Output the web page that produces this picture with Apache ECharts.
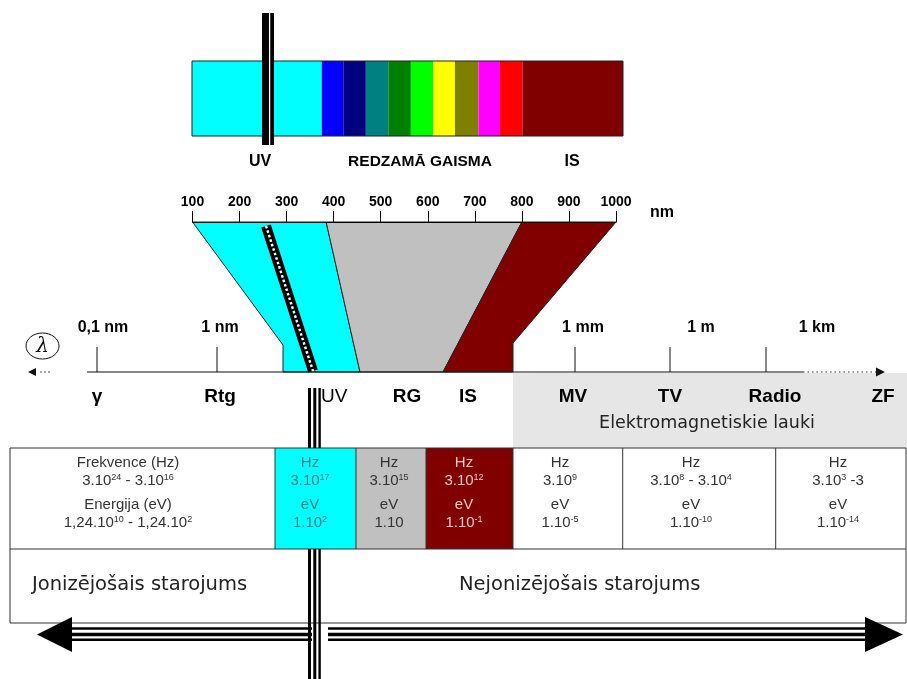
<!DOCTYPE html>
<html><head><meta charset="utf-8">
<script src="https://cdn.jsdelivr.net/npm/echarts@6/dist/echarts.min.js"></script>
<style>html,body{margin:0;padding:0;background:#fff}#c{width:907px;height:679px}</style>
</head><body><div id="c"></div>
<script>
// ---------------- data ----------------
const spectrumBandColors = ['#00ffff','#0000ff','#000080','#008080','#008000','#00ff00','#ffff00','#808000','#ff00ff','#ff0000','#800000'];
const spectrumBandEdgesNm = [100,371,416,463,510,557,604,649,698,743,790,1000];
const spectrumLabels = ['UV','REDZAMĀ GAISMA','IS'];
const funnelColors = ['#00ffff','#c0c0c0','#800000'];
const funnelTopNm = [100,384,800,1000];
const nmUnit = 'nm';
const wavelengthTickLabels = ['0,1 nm','1 nm','1 mm','1 m','1 km'];
const regionLabels = ['γ','Rtg','UV','RG','IS','MV','TV','Radio','ZF'];
const emFieldLabel = 'Elektromagnetiskie lauki';
const firstCellLines = ['Frekvence (Hz)','3.10²⁴ - 3.10¹⁶','Energija (eV)','1,24.10¹⁰ - 1,24.10²'];
const cellFrequencies = ['3.10¹⁷','3.10¹⁵','3.10¹²','3.10⁹','3.10⁸ - 3.10⁴','3.10³ -3'];
const cellEnergies = ['1.10²','1.10','1.10⁻¹','1.10⁻⁵','1.10⁻¹⁰','1.10⁻¹⁴'];
const cellUnits = ['Hz','eV'];
const radiationLabels = ['Jonizējošais starojums','Nejonizējošais starojums'];

// ---------------- layout ----------------
const L = {
  spectrumLabelX: [260, 420, 572], spectrumLabelY: 162,
  topLine: {x1: 262, x2: 274, gapX: 269.6, y1: 13, y2: 145},
  nmLabel: {x: 662, y: 213},
  axisY: 372, axisX1: 87, axisSolidEnd: 803, axisDotEnd: 876, axisArrowTip: 885,
  tickX: [97, 217, 575, 670, 766], tickTop: 347, tickLabelX: [103, 220, 583, 701, 817], tickLabelY: 328,
  funnelTopY: 222,
  funnelBottom: [[[360,372],[283,372],[283,345]], [[443,372],[360,372]], [[513,343],[513,372],[443,372]]],
  diag: {x1: 266, y1: 226, x2: 313, y2: 371},
  regionX: [97, 220, 321, 407, 468, 573, 670, 775, 883], regionY: 397,
  em: {x1: 513, x2: 907, y1: 373, y2: 448, textX: 707, textY: 423},
  lambda: {x: 42.5, y: 346, rx: 16.5, ry: 13},
  table: {x1: 10, x2: 906, y1: 448, yMid: 549, y2: 623},
  colEdges: [10, 275, 356, 426, 513, 622.7, 775.7, 906],
  colTextX: [128, 310, 389, 464, 560, 691, 838],
  cellFills: [null, '#00ffff', '#c0c0c0', '#800000', null, null, null],
  cellText: ['#333', '#3d7f86', '#333', '#f0c4c4', '#333', '#333', '#333'],
  lineY: [463, 481, 505, 523],
  radX: [32, 459], radY: 585,
  vLines: [[388, 448], [549, 679]], vLineX: [[309.5, 3], [314.8, 3], [319.6, 2.4]],
  arrowY: 634.5, arrowHalf: 17.5,
  leftArrow: {tip: 37, base: 72, end: 312}, rightArrow: {start: 328, base: 865, tip: 903},
  shaft: [[-6, 2.5], [0, 3.5], [5.2, 2.5]]
};

const FF = '"Liberation Sans", Arial, sans-serif';
const SUP = {'⁰':'0','¹':'1','²':'2','³':'3','⁴':'4','⁵':'5','⁶':'6','⁷':'7','⁸':'8','⁹':'9','⁻':'-'};
function toRich(s) {
  let out = '', sup = '';
  for (const ch of s) {
    if (SUP[ch] !== undefined) { sup += SUP[ch]; continue; }
    if (sup) { out += '{s|' + sup + '}'; sup = ''; }
    out += ch === '{' || ch === '}' ? '' : ch;
  }
  if (sup) out += '{s|' + sup + '}';
  return out;
}
function txt(x, y, text, font, fill, align, valign, rich) {
  const st = {legacy: false, x, y, text, font, fill: fill || '#000', align: align || 'center', verticalAlign: valign || 'middle'};
  if (rich) st.rich = rich;
  return {type: 'text', style: st};
}
function rect(x1, y1, x2, y2, fill, stroke, lw) {
  return {type: 'rect', shape: {x: x1, y: y1, width: x2 - x1, height: y2 - y1}, style: {fill: fill || 'none', stroke: stroke || 'none', lineWidth: lw || 1}};
}
function line(x1, y1, x2, y2, stroke, lw, dash) {
  return {type: 'line', shape: {x1, y1, x2, y2}, style: {stroke, lineWidth: lw, lineDash: dash || null}};
}
function poly(points, fill, stroke) {
  return {type: 'polygon', shape: {points}, style: {fill, stroke: stroke || 'none', lineWidth: 1}};
}

const chart = echarts.init(document.getElementById('c'), null, {renderer: 'canvas'});
const base = {
  animation: false,
  backgroundColor: '#ffffff',
  grid: [
    {left: 0, top: 0, width: 907, height: 679},
    {left: 192, top: 61, width: 431, height: 75},
    {left: 192.5, top: 222, width: 423.5, height: 150}
  ],
  xAxis: [
    {gridIndex: 0, type: 'value', min: 0, max: 907, show: false},
    {gridIndex: 1, type: 'value', min: 100, max: 1000, show: false},
    {gridIndex: 2, type: 'value', min: 100, max: 1000, interval: 100, position: 'top', z: 20,
      axisLine: {show: true, onZero: false, lineStyle: {color: '#000', width: 1}},
      axisTick: {show: true, inside: false, length: 11, lineStyle: {color: '#000', width: 1}},
      axisLabel: {show: true, margin: 13, color: '#000', fontWeight: 'bold', fontSize: 14, fontFamily: FF, formatter: v => String(v)},
      splitLine: {show: false}}
  ],
  yAxis: [
    {gridIndex: 0, type: 'value', min: 0, max: 679, inverse: true, show: false},
    {gridIndex: 1, type: 'value', min: 0, max: 1, show: false},
    {gridIndex: 2, type: 'value', min: 0, max: 1, show: false}
  ],
  series: []
};
chart.setOption(base);
const nmPx = nm => chart.convertToPixel({xAxisIndex: 2}, nm);

function pixelSeries(z, build) {
  return {
    type: 'custom', xAxisIndex: 0, yAxisIndex: 0, data: [[0, 0]], z, silent: true, clip: false,
    renderItem: (params, api) => {
      const P = (x, y) => api.coord([x, y]);
      return {type: 'group', children: build(P)};
    }
  };
}

const series = [];

// spectrum bands (nm scale of the bar grid)
series.push({
  type: 'custom', xAxisIndex: 1, yAxisIndex: 1, z: 2, silent: true,
  data: spectrumBandColors.map((c, i) => [spectrumBandEdgesNm[i], spectrumBandEdgesNm[i + 1], i]),
  renderItem: (params, api) => {
    const a = api.coord([api.value(0), 1]), b = api.coord([api.value(1), 0]);
    return {type: 'rect', shape: {x: a[0], y: a[1], width: b[0] - a[0], height: b[1] - a[1]},
      style: {fill: spectrumBandColors[api.value(2)]}};
  }
});
series.push({
  type: 'custom', xAxisIndex: 1, yAxisIndex: 1, z: 3, silent: true, data: [[100, 1000]],
  renderItem: (params, api) => {
    const a = api.coord([api.value(0), 1]), b = api.coord([api.value(1), 0]);
    return {type: 'rect', shape: {x: a[0], y: a[1], width: b[0] - a[0], height: b[1] - a[1]},
      style: {fill: 'none', stroke: '#222', lineWidth: 1}};
  }
});

// spectrum labels + top black line + nm unit
series.push(pixelSeries(5, P => {
  const out = [];
  const fonts = ['bold 16px ' + FF, 'bold 15.5px ' + FF, 'bold 16px ' + FF];
  spectrumLabels.forEach((s, i) => { const p = P(L.spectrumLabelX[i], L.spectrumLabelY); out.push(txt(p[0], p[1], s, fonts[i], '#000')); });
  const t = L.topLine, a = P(t.x1, t.y1), b = P(t.x2, t.y2);
  out.push(rect(a[0], a[1], b[0], b[1], '#000'));
  const g1 = P(t.gapX, t.y1), g2 = P(t.gapX, t.y2);
  out.push(line(g1[0], g1[1], g2[0], g2[1], '#fff', 1.3));
  const n = P(L.nmLabel.x, L.nmLabel.y);
  out.push(txt(n[0], n[1], nmUnit, 'bold 16px ' + FF, '#000'));
  return out;
}));

// EM field grey band
series.push(pixelSeries(1, P => {
  const e = L.em, a = P(e.x1, e.y1), b = P(e.x2, e.y2);
  const t = P(e.textX, e.textY);
  return [rect(a[0], a[1], b[0], b[1], '#e6e6e6'), txt(t[0], t[1], emFieldLabel, '17.5px "DejaVu Sans", ' + FF, '#222')];
}));

// funnel polygons from nm axis down to wavelength axis
series.push(pixelSeries(3, P => {
  const out = [];
  funnelColors.forEach((c, i) => {
    const top = [[nmPx(funnelTopNm[i]), L.funnelTopY], [nmPx(funnelTopNm[i + 1]), L.funnelTopY]];
    const pts = top.concat(L.funnelBottom[i]).map(p => P(p[0], p[1]));
    out.push(poly(pts, c, '#222'));
  });
  return out;
}));

// diagonal hatched band
series.push(pixelSeries(6, P => {
  const d = L.diag, a = P(d.x1, d.y1), b = P(d.x2, d.y2);
  return [line(a[0], a[1], b[0], b[1], '#000', 10), line(a[0], a[1], b[0], b[1], '#fff', 2.4, [2.5, 2.2])];
}));

// wavelength axis, ticks, labels, region labels, lambda
series.push(pixelSeries(7, P => {
  const out = [];
  const a = P(L.axisX1, L.axisY), b = P(L.axisSolidEnd, L.axisY), c = P(L.axisDotEnd, L.axisY), tip = P(L.axisArrowTip, L.axisY);
  out.push(line(a[0], a[1], b[0], b[1], '#111', 1));
  out.push(line(b[0], b[1], c[0], c[1], '#333', 1.2, [1.5, 3]));
  out.push(poly([tip, P(L.axisArrowTip - 9, L.axisY - 4.5), P(L.axisArrowTip - 9, L.axisY + 4.5)], '#111'));
  wavelengthTickLabels.forEach((s, i) => {
    const t1 = P(L.tickX[i], L.tickTop), t2 = P(L.tickX[i], L.axisY);
    out.push(line(t1[0], t1[1], t2[0], t2[1], '#111', 1));
    const lp = P(L.tickLabelX[i], L.tickLabelY);
    out.push(txt(lp[0], lp[1], s, 'bold 16px ' + FF, '#000'));
  });
  regionLabels.forEach((s, i) => {
    const p = P(L.regionX[i], L.regionY);
    const isUV = s === 'UV';
    out.push(txt(p[0], p[1], s, (isUV ? '' : 'bold ') + '19px ' + FF, '#000', isUV ? 'left' : 'center'));
  });
  const l = L.lambda, lc = P(l.x, l.y);
  out.push({type: 'ellipse', shape: {cx: lc[0], cy: lc[1], rx: l.rx, ry: l.ry}, style: {fill: 'none', stroke: '#111', lineWidth: 1}});
  out.push(txt(lc[0], lc[1] + 1, 'λ', 'italic 20px "DejaVu Serif", serif', '#111'));
  out.push(poly([P(28, 372), P(36, 368), P(36, 376)], '#111'));
  [41, 45, 49].forEach(x => { const p = P(x, 372); out.push({type: 'circle', shape: {cx: p[0], cy: p[1], r: 0.8}, style: {fill: '#333'}}); });
  return out;
}));

// table
series.push(pixelSeries(8, P => {
  const out = [];
  const T = L.table;
  L.cellFills.forEach((f, i) => {
    if (!f) return;
    const a = P(L.colEdges[i], T.y1), b = P(L.colEdges[i + 1], T.yMid);
    out.push(rect(a[0], a[1], b[0], b[1], f));
  });
  const o1 = P(T.x1, T.y1), o2 = P(T.x2, T.y2);
  out.push(rect(o1[0], o1[1], o2[0], o2[1], 'none', '#333', 1));
  const m1 = P(T.x1, T.yMid), m2 = P(T.x2, T.yMid);
  out.push(line(m1[0], m1[1], m2[0], m2[1], '#333', 1));
  L.colEdges.slice(1, -1).forEach(x => { const a = P(x, T.y1), b = P(x, T.yMid); out.push(line(a[0], a[1], b[0], b[1], '#333', 1)); });
  const font = '15px ' + FF;
  const rich = {s: {fontSize: 9, fontFamily: 'Liberation Sans, Arial, sans-serif', verticalAlign: 'top', lineHeight: 9}};
  for (let i = 0; i < L.colEdges.length - 1; i++) {
    const lines = i === 0 ? firstCellLines : [cellUnits[0], cellFrequencies[i - 1], cellUnits[1], cellEnergies[i - 1]];
    lines.forEach((s, k) => {
      const p = P(L.colTextX[i], L.lineY[k]);
      out.push(txt(p[0], p[1], toRich(s), font, L.cellText[i], 'center', 'middle', rich));
    });
  }
  radiationLabels.forEach((s, i) => { const p = P(L.radX[i], L.radY); out.push(txt(p[0], p[1], s, '19.5px "DejaVu Sans", ' + FF, '#222', 'left')); });
  return out;
}));

// vertical triple line & bottom arrows
series.push(pixelSeries(10, P => {
  const out = [];
  const y = L.arrowY, h = L.arrowHalf;
  const la = L.leftArrow, ra = L.rightArrow;
  L.shaft.forEach(([dy, w]) => {
    const a = P(la.base - 1, y + dy), b = P(la.end, y + dy);
    out.push(line(a[0], a[1], b[0], b[1], '#000', w));
    const c = P(ra.start, y + dy), d = P(ra.base + 1, y + dy);
    out.push(line(c[0], c[1], d[0], d[1], '#000', w));
  });
  out.push(poly([P(la.tip, y), P(la.base, y - h), P(la.base, y + h)], '#000'));
  out.push(poly([P(ra.tip, y), P(ra.base, y - h), P(ra.base, y + h)], '#000'));
  L.vLines.forEach(([y1, y2]) => {
    L.vLineX.forEach(([x, w]) => { const a = P(x, y1), b = P(x, y2); out.push(line(a[0], a[1], b[0], b[1], '#000', w)); });
  });
  return out;
}));

chart.setOption({series});
</script>
</body></html>
